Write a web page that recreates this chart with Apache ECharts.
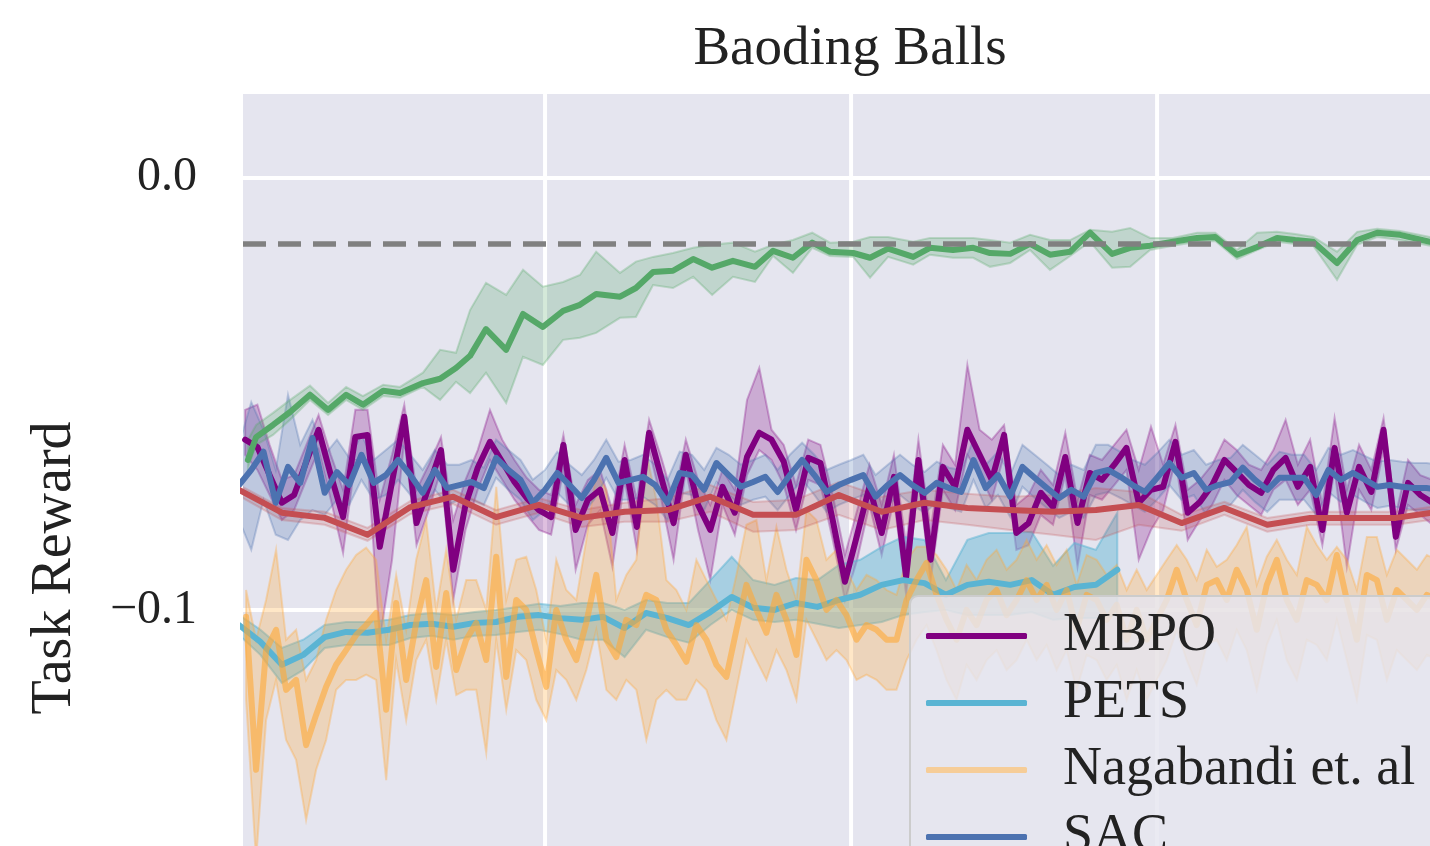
<!DOCTYPE html>
<html>
<head>
<meta charset="utf-8">
<title>Baoding Balls</title>
<script src="https://cdn.jsdelivr.net/npm/echarts@6.0.0/dist/echarts.min.js"></script>
<style>
  html, body { margin: 0; padding: 0; background: #ffffff; }
  #chart { width: 1430px; height: 846px; }
</style>
</head>
<body>
<div id="chart"></div>
<script>
// ---------------- labels ----------------
const TITLE = 'Baoding Balls';
const Y_NAME = 'Task Reward';
const LEGEND_NAMES = ['MBPO', 'PETS', 'Nagabandi et. al', 'SAC'];

// ---------------- axes ----------------
const X_MIN = 1.3, X_MAX = 398.0;
const Y_MIN = -0.2, Y_MAX = 0.0194, Y_STEP = 0.1;
const GRID_X = [100, 200, 300];
const TARGET_REWARD = -0.0153;   // dashed reference level

// ---------------- green method (irregular evaluation steps) ----------------
const GREEN_X = [2.9,5.6,11.1,16.7,23.2,29.1,35.0,40.5,47.1,52.6,60.1,65.7,70.9,75.5,80.7,87.3,92.8,99.3,105.9,111.4,116.7,124.5,129.7,135.3,141.8,148.4,154.6,161.4,168.6,174.5,181.0,187.3,193.1,200.7,206.2,212.1,220.3,225.8,233.3,239.9,245.4,252.0,258.5,265.0,271.6,278.1,285.3,291.2,297.7,305.2,313.1,319.0,326.1,332.7,339.2,345.1,351.0,358.8,365.4,371.9,379.4,389.2,395.8];
const GREEN_MEAN = [-0.0653,-0.0600,-0.0572,-0.0542,-0.0502,-0.0537,-0.0502,-0.0525,-0.0493,-0.0498,-0.0475,-0.0465,-0.0440,-0.0412,-0.0350,-0.0398,-0.0315,-0.0345,-0.0308,-0.0294,-0.0269,-0.0275,-0.0255,-0.0218,-0.0215,-0.0188,-0.0208,-0.0192,-0.0206,-0.0169,-0.0185,-0.0150,-0.0171,-0.0174,-0.0185,-0.0164,-0.0183,-0.0162,-0.0167,-0.0162,-0.0174,-0.0176,-0.0153,-0.0178,-0.0171,-0.0127,-0.0176,-0.0162,-0.0157,-0.0148,-0.0139,-0.0137,-0.0178,-0.0160,-0.0139,-0.0144,-0.0148,-0.0197,-0.0144,-0.0127,-0.0132,-0.0148,-0.0153];
const GREEN_HIGH = [-0.0606,-0.0572,-0.0544,-0.0514,-0.0481,-0.0521,-0.0484,-0.0505,-0.0479,-0.0484,-0.0451,-0.0398,-0.0405,-0.0306,-0.0243,-0.0271,-0.0213,-0.0252,-0.0241,-0.0225,-0.0171,-0.0220,-0.0194,-0.0183,-0.0174,-0.0162,-0.0155,-0.0150,-0.0171,-0.0155,-0.0144,-0.0127,-0.0150,-0.0148,-0.0137,-0.0137,-0.0148,-0.0139,-0.0139,-0.0139,-0.0144,-0.0150,-0.0132,-0.0144,-0.0144,-0.0120,-0.0125,-0.0116,-0.0139,-0.0139,-0.0127,-0.0127,-0.0167,-0.0127,-0.0125,-0.0130,-0.0137,-0.0171,-0.0125,-0.0118,-0.0123,-0.0137,-0.0141];
const GREEN_LOW = [-0.0671,-0.0618,-0.0595,-0.0560,-0.0514,-0.0549,-0.0514,-0.0537,-0.0505,-0.0509,-0.0484,-0.0514,-0.0472,-0.0498,-0.0451,-0.0521,-0.0414,-0.0433,-0.0375,-0.0370,-0.0359,-0.0324,-0.0322,-0.0248,-0.0255,-0.0229,-0.0271,-0.0229,-0.0241,-0.0181,-0.0220,-0.0162,-0.0181,-0.0183,-0.0231,-0.0183,-0.0201,-0.0178,-0.0185,-0.0185,-0.0206,-0.0197,-0.0167,-0.0213,-0.0181,-0.0148,-0.0208,-0.0206,-0.0167,-0.0157,-0.0148,-0.0146,-0.0188,-0.0167,-0.0148,-0.0153,-0.0157,-0.0236,-0.0155,-0.0137,-0.0144,-0.0157,-0.0162];

// ---------------- MBPO (every 4 steps from 2) ----------------
const MBPO_START = 2, MBPO_EVERY = 4;
const MBPO_MEAN = [-0.0606,-0.0623,-0.0688,-0.0752,-0.0734,-0.0657,-0.0583,-0.0688,-0.0785,-0.0600,
  -0.0595,-0.0854,-0.0704,-0.0553,-0.0799,-0.0715,-0.0630,-0.0907,-0.0757,-0.0671,
  -0.0611,-0.0657,-0.0704,-0.0741,-0.0769,-0.0785,-0.0618,-0.0815,-0.0745,-0.0722,
  -0.0822,-0.0653,-0.0808,-0.0590,-0.0694,-0.0799,-0.0641,-0.0757,-0.0815,-0.0715,
  -0.0775,-0.0646,-0.0590,-0.0606,-0.0657,-0.0769,-0.0648,-0.0660,-0.0792,-0.0935,
  -0.0826,-0.0715,-0.0822,-0.0692,-0.0924,-0.0653,-0.0884,-0.0669,-0.0715,-0.0583,
  -0.0641,-0.0699,-0.0595,-0.0822,-0.0799,-0.0729,-0.0762,-0.0646,-0.0799,-0.0683,
  -0.0699,-0.0664,-0.0625,-0.0752,-0.0722,-0.0715,-0.0611,-0.0775,-0.0750,-0.0711,
  -0.0653,-0.0681,-0.0711,-0.0729,-0.0676,-0.0648,-0.0715,-0.0669,-0.0815,-0.0625,
  -0.0775,-0.0669,-0.0727,-0.0583,-0.0831,-0.0706,-0.0734,-0.0752];
const MBPO_HIGH = [-0.0537,-0.0525,-0.0618,-0.0699,-0.0688,-0.0618,-0.0549,-0.0641,-0.0722,-0.0537,
  -0.0537,-0.0745,-0.0641,-0.0525,-0.0722,-0.0664,-0.0600,-0.0792,-0.0699,-0.0630,
  -0.0537,-0.0606,-0.0653,-0.0694,-0.0722,-0.0734,-0.0595,-0.0757,-0.0699,-0.0676,
  -0.0769,-0.0618,-0.0745,-0.0560,-0.0648,-0.0745,-0.0606,-0.0699,-0.0757,-0.0676,
  -0.0722,-0.0514,-0.0440,-0.0583,-0.0618,-0.0711,-0.0606,-0.0618,-0.0734,-0.0873,
  -0.0769,-0.0664,-0.0757,-0.0641,-0.0850,-0.0606,-0.0815,-0.0618,-0.0664,-0.0433,
  -0.0583,-0.0606,-0.0572,-0.0757,-0.0734,-0.0676,-0.0711,-0.0590,-0.0745,-0.0641,
  -0.0653,-0.0618,-0.0583,-0.0676,-0.0576,-0.0664,-0.0572,-0.0722,-0.0699,-0.0664,
  -0.0606,-0.0630,-0.0664,-0.0676,-0.0630,-0.0560,-0.0664,-0.0606,-0.0757,-0.0556,
  -0.0722,-0.0618,-0.0676,-0.0556,-0.0780,-0.0653,-0.0688,-0.0699];
const MBPO_LOW = [-0.0641,-0.0676,-0.0734,-0.0792,-0.0769,-0.0699,-0.0630,-0.0745,-0.0868,-0.0653,
  -0.0653,-0.1069,-0.0884,-0.0606,-0.0850,-0.0769,-0.0676,-0.0977,-0.0815,-0.0722,
  -0.0653,-0.0699,-0.0745,-0.0780,-0.0815,-0.0826,-0.0676,-0.0907,-0.0803,-0.0769,
  -0.0900,-0.0699,-0.0861,-0.0630,-0.0745,-0.0884,-0.0676,-0.0815,-0.0931,-0.0757,
  -0.0826,-0.0688,-0.0630,-0.0653,-0.0711,-0.0815,-0.0699,-0.0711,-0.0838,-0.0977,
  -0.0884,-0.0757,-0.0873,-0.0745,-0.0965,-0.0699,-0.0931,-0.0722,-0.0769,-0.0641,
  -0.0688,-0.0745,-0.0641,-0.0861,-0.0850,-0.0780,-0.0803,-0.0688,-0.0900,-0.0734,
  -0.0745,-0.0711,-0.0676,-0.0884,-0.0815,-0.0769,-0.0653,-0.0838,-0.0792,-0.0757,
  -0.0699,-0.0734,-0.0757,-0.0780,-0.0722,-0.0699,-0.0757,-0.0722,-0.0850,-0.0676,
  -0.0900,-0.0722,-0.0769,-0.0630,-0.0861,-0.0757,-0.0780,-0.0803];

// ---------------- SAC (every 4 steps from 0) ----------------
const SAC_START = 0, SAC_EVERY = 4;
const SAC_MEAN = [-0.0711,-0.0676,-0.0634,-0.0752,-0.0669,-0.0706,-0.0602,-0.0729,-0.0681,-0.0711,
  -0.0641,-0.0706,-0.0688,-0.0653,-0.0688,-0.0729,-0.0676,-0.0718,-0.0711,-0.0704,
  -0.0718,-0.0648,-0.0676,-0.0699,-0.0752,-0.0722,-0.0683,-0.0711,-0.0741,-0.0699,
  -0.0648,-0.0706,-0.0699,-0.0692,-0.0711,-0.0752,-0.0683,-0.0688,-0.0722,-0.0660,
  -0.0688,-0.0715,-0.0704,-0.0692,-0.0727,-0.0688,-0.0653,-0.0688,-0.0727,-0.0711,
  -0.0699,-0.0688,-0.0738,-0.0711,-0.0688,-0.0711,-0.0729,-0.0706,-0.0718,-0.0727,
  -0.0653,-0.0718,-0.0688,-0.0738,-0.0669,-0.0694,-0.0718,-0.0741,-0.0722,-0.0738,
  -0.0683,-0.0676,-0.0692,-0.0711,-0.0727,-0.0694,-0.0660,-0.0694,-0.0683,-0.0722,
  -0.0711,-0.0704,-0.0671,-0.0699,-0.0722,-0.0694,-0.0694,-0.0694,-0.0734,-0.0676,
  -0.0699,-0.0683,-0.0699,-0.0715,-0.0711,-0.0715,-0.0718,-0.0718,-0.0722];
const SAC_HIGH = [-0.0618,-0.0519,-0.0583,-0.0676,-0.0502,-0.0618,-0.0560,-0.0641,-0.0606,-0.0648,
  -0.0595,-0.0653,-0.0630,-0.0606,-0.0641,-0.0676,-0.0630,-0.0664,-0.0664,-0.0653,
  -0.0671,-0.0606,-0.0630,-0.0653,-0.0699,-0.0676,-0.0634,-0.0664,-0.0688,-0.0653,
  -0.0606,-0.0657,-0.0653,-0.0641,-0.0664,-0.0699,-0.0634,-0.0641,-0.0676,-0.0625,
  -0.0641,-0.0664,-0.0653,-0.0641,-0.0676,-0.0641,-0.0613,-0.0641,-0.0676,-0.0664,
  -0.0653,-0.0641,-0.0688,-0.0664,-0.0641,-0.0664,-0.0681,-0.0657,-0.0671,-0.0676,
  -0.0606,-0.0664,-0.0634,-0.0688,-0.0618,-0.0641,-0.0664,-0.0688,-0.0664,-0.0676,
  -0.0618,-0.0618,-0.0634,-0.0653,-0.0664,-0.0637,-0.0606,-0.0641,-0.0630,-0.0664,
  -0.0653,-0.0648,-0.0618,-0.0641,-0.0664,-0.0634,-0.0641,-0.0641,-0.0676,-0.0625,
  -0.0641,-0.0630,-0.0644,-0.0657,-0.0653,-0.0657,-0.0660,-0.0660,-0.0664];
const SAC_LOW = [-0.0792,-0.0861,-0.0745,-0.0826,-0.0838,-0.0792,-0.0769,-0.0780,-0.0745,-0.0757,
  -0.0699,-0.0745,-0.0734,-0.0699,-0.0734,-0.0769,-0.0722,-0.0757,-0.0745,-0.0745,
  -0.0757,-0.0694,-0.0722,-0.0745,-0.0792,-0.0769,-0.0729,-0.0757,-0.0780,-0.0745,
  -0.0694,-0.0745,-0.0745,-0.0738,-0.0757,-0.0792,-0.0729,-0.0734,-0.0769,-0.0704,
  -0.0734,-0.0757,-0.0745,-0.0738,-0.0769,-0.0734,-0.0699,-0.0734,-0.0773,-0.0757,
  -0.0745,-0.0734,-0.0785,-0.0757,-0.0734,-0.0757,-0.0775,-0.0752,-0.0764,-0.0773,
  -0.0699,-0.0764,-0.0734,-0.0785,-0.0715,-0.0741,-0.0764,-0.0787,-0.0773,-0.0787,
  -0.0734,-0.0727,-0.0741,-0.0757,-0.0773,-0.0745,-0.0711,-0.0745,-0.0734,-0.0780,
  -0.0762,-0.0757,-0.0722,-0.0750,-0.0773,-0.0745,-0.0745,-0.0745,-0.0780,-0.0727,
  -0.0750,-0.0734,-0.0750,-0.0764,-0.0759,-0.0764,-0.0769,-0.0769,-0.0773];

// ---------------- red method (every 14 steps) ----------------
const RED_START = 0, RED_EVERY = 14;
const RED_MEAN = [-0.0722,-0.0775,-0.0787,-0.0826,-0.0762,-0.0738,-0.0785,-0.0757,-0.0787,-0.0773,-0.0769,-0.0738,-0.0780,-0.0780,-0.0734,-0.0773,-0.0752,-0.0764,-0.0769,-0.0773,-0.0769,-0.0757,-0.0799,-0.0764,-0.0803,-0.0787,-0.0787,-0.0787,-0.0773];
const RED_HIGH = [-0.0711,-0.0764,-0.0773,-0.0810,-0.0748,-0.0722,-0.0769,-0.0741,-0.0769,-0.0752,-0.0741,-0.0711,-0.0750,-0.0745,-0.0704,-0.0738,-0.0722,-0.0731,-0.0738,-0.0734,-0.0718,-0.0727,-0.0780,-0.0750,-0.0787,-0.0773,-0.0773,-0.0773,-0.0759];
const RED_LOW = [-0.0736,-0.0792,-0.0803,-0.0840,-0.0778,-0.0755,-0.0803,-0.0775,-0.0808,-0.0796,-0.0796,-0.0773,-0.0819,-0.0815,-0.0780,-0.0815,-0.0792,-0.0803,-0.0815,-0.0826,-0.0838,-0.0803,-0.0817,-0.0780,-0.0819,-0.0803,-0.0803,-0.0803,-0.0789];

// ---------------- PETS (every 7 steps) ----------------
const PETS_START = 0, PETS_EVERY = 7;
const PETS_MEAN = [-0.1035,-0.1074,-0.1127,-0.1104,-0.1063,-0.1051,-0.1053,-0.1046,-0.1035,-0.1032,-0.1039,-0.1030,-0.1028,-0.1016,-0.1012,-0.1019,-0.1023,-0.1016,-0.1042,-0.1007,-0.1019,-0.1035,-0.1005,-0.0970,-0.0995,-0.1000,-0.0984,-0.0993,-0.0977,-0.0965,-0.0942,-0.0931,-0.0938,-0.0965,-0.0942,-0.0935,-0.0942,-0.0931,-0.0965,-0.0947,-0.0942,-0.0907];
const PETS_HIGH = [-0.1012,-0.1046,-0.1088,-0.1069,-0.1035,-0.1028,-0.1028,-0.1023,-0.1012,-0.1007,-0.1012,-0.1005,-0.1000,-0.0993,-0.0986,-0.0991,-0.0984,-0.0984,-0.1000,-0.0977,-0.0984,-0.0984,-0.0931,-0.0877,-0.0931,-0.0942,-0.0926,-0.0931,-0.0896,-0.0884,-0.0854,-0.0831,-0.0838,-0.0931,-0.0838,-0.0822,-0.0822,-0.0819,-0.0898,-0.0845,-0.0861,-0.0775];
const PETS_LOW = [-0.1058,-0.1104,-0.1169,-0.1139,-0.1088,-0.1081,-0.1081,-0.1081,-0.1065,-0.1060,-0.1069,-0.1060,-0.1058,-0.1051,-0.1046,-0.1056,-0.1069,-0.1069,-0.1109,-0.1046,-0.1063,-0.1076,-0.1035,-0.1000,-0.1023,-0.1028,-0.1023,-0.1032,-0.1042,-0.1035,-0.1028,-0.1012,-0.1005,-0.1000,-0.1012,-0.1012,-0.1012,-0.1005,-0.1023,-0.1019,-0.1019,-0.1012];

// ---------------- Nagabandi et. al (every 3.27 steps) ----------------
const NAG_START = 2.3, NAG_EVERY = 3.27;
const NAG_MEAN = [-0.1016,-0.1370,-0.1093,-0.1046,-0.1185,-0.1162,-0.1313,-0.1243,-0.1178,-0.1127,
  -0.1093,-0.1058,-0.1035,-0.1007,-0.1231,-0.0984,-0.1162,-0.1030,-0.0931,-0.1132,
  -0.0961,-0.1139,-0.1069,-0.1030,-0.1116,-0.0877,-0.1155,-0.0977,-0.1000,-0.1093,
  -0.1178,-0.1000,-0.1069,-0.1116,-0.1030,-0.0919,-0.1069,-0.1109,-0.1023,-0.1035,
  -0.0965,-0.0977,-0.1046,-0.1081,-0.1120,-0.1035,-0.1069,-0.1127,-0.1155,-0.1046,
  -0.0942,-0.1000,-0.1053,-0.0965,-0.1023,-0.1104,-0.0884,-0.0931,-0.1000,-0.0977,
  -0.1012,-0.1069,-0.1035,-0.1046,-0.1069,-0.1069,-0.0977,-0.0931,-0.0891,-0.0965,
  -0.1023,-0.1069,-0.1000,-0.1035,-0.0977,-0.0954,-0.1012,-0.0977,-0.0931,-0.0977,
  -0.0942,-0.1000,-0.0954,-0.1046,-0.0965,-0.0977,-0.1023,-0.0988,-0.1069,-0.1000,
  -0.1069,-0.1023,-0.0977,-0.0907,-0.0977,-0.1035,-0.0942,-0.0931,-0.0977,-0.0907,
  -0.0954,-0.1046,-0.0942,-0.0884,-0.0977,-0.1023,-0.0931,-0.0942,-0.0977,-0.0873,
  -0.0977,-0.1069,-0.0919,-0.0931,-0.1023,-0.0954,-0.0977,-0.1000,-0.0965,-0.0977];
const NAG_HIGH = [-0.0954,-0.1069,-0.0977,-0.0861,-0.1069,-0.1046,-0.1162,-0.1116,-0.1023,-0.0954,
  -0.0907,-0.0873,-0.0856,-0.0884,-0.1069,-0.0919,-0.1046,-0.0884,-0.0792,-0.1000,
  -0.0861,-0.1023,-0.0931,-0.0931,-0.1000,-0.0715,-0.0977,-0.0884,-0.0877,-0.0954,
  -0.1069,-0.0884,-0.0954,-0.0977,-0.0838,-0.0683,-0.0722,-0.0977,-0.0919,-0.0884,
  -0.0637,-0.0745,-0.0931,-0.0954,-0.1000,-0.0884,-0.0931,-0.0977,-0.1023,-0.0919,
  -0.0803,-0.0792,-0.0931,-0.0808,-0.0907,-0.0977,-0.0769,-0.0792,-0.0884,-0.0861,
  -0.0907,-0.0954,-0.0919,-0.0931,-0.0954,-0.0965,-0.0884,-0.0854,-0.0854,-0.0873,
  -0.0907,-0.0954,-0.0896,-0.0931,-0.0884,-0.0861,-0.0907,-0.0884,-0.0838,-0.0884,
  -0.0850,-0.0896,-0.0861,-0.0942,-0.0873,-0.0884,-0.0919,-0.0896,-0.0954,-0.0907,
  -0.0954,-0.0919,-0.0884,-0.0850,-0.0884,-0.0931,-0.0861,-0.0900,-0.0884,-0.0850,
  -0.0808,-0.0942,-0.0877,-0.0838,-0.0884,-0.0919,-0.0808,-0.0850,-0.0884,-0.0854,
  -0.0884,-0.0954,-0.0831,-0.0831,-0.0919,-0.0861,-0.0884,-0.0907,-0.0873,-0.0884];
const NAG_LOW = [-0.1208,-0.1579,-0.1255,-0.1162,-0.1301,-0.1347,-0.1486,-0.1370,-0.1301,-0.1185,
  -0.1162,-0.1162,-0.1150,-0.1162,-0.1394,-0.1116,-0.1255,-0.1116,-0.1069,-0.1208,
  -0.1069,-0.1197,-0.1185,-0.1185,-0.1331,-0.1069,-0.1231,-0.1093,-0.1116,-0.1208,
  -0.1255,-0.1139,-0.1162,-0.1208,-0.1139,-0.1046,-0.1185,-0.1208,-0.1162,-0.1185,
  -0.1301,-0.1208,-0.1185,-0.1208,-0.1208,-0.1162,-0.1185,-0.1255,-0.1301,-0.1185,
  -0.1069,-0.1116,-0.1162,-0.1093,-0.1139,-0.1208,-0.1023,-0.1069,-0.1116,-0.1093,
  -0.1116,-0.1162,-0.1150,-0.1162,-0.1185,-0.1185,-0.1116,-0.1069,-0.1035,-0.1093,
  -0.1162,-0.1208,-0.1127,-0.1162,-0.1116,-0.1093,-0.1139,-0.1116,-0.1069,-0.1116,
  -0.1081,-0.1139,-0.1093,-0.1185,-0.1104,-0.1116,-0.1162,-0.1127,-0.1208,-0.1139,
  -0.1208,-0.1162,-0.1116,-0.1046,-0.1116,-0.1173,-0.1081,-0.1069,-0.1116,-0.1046,
  -0.1093,-0.1185,-0.1081,-0.1023,-0.1116,-0.1162,-0.1069,-0.1081,-0.1116,-0.1023,
  -0.1116,-0.1208,-0.1058,-0.1069,-0.1162,-0.1093,-0.1116,-0.1139,-0.1104,-0.1116];

// ---------------- helpers ----------------
const FONT = '"Liberation Serif", "DejaVu Serif", serif';
const TEXT_COLOR = '#222222';
const PLOT_BG = '#E5E5EF';
const LINE_W = 6;

function evalSteps(start, every, count) {
  const xs = [];
  for (let i = 0; i < count; i++) xs.push(+(start + every * i).toFixed(2));
  return xs;
}
function rgba(hex, a) {
  const n = parseInt(hex.slice(1), 16);
  return 'rgba(' + ((n >> 16) & 255) + ',' + ((n >> 8) & 255) + ',' + (n & 255) + ',' + a + ')';
}
// shaded spread between LOW and HIGH, drawn as one polygon through the axis scales
function spreadSeries(id, xs, low, high, color, alpha) {
  const mid = Math.floor(xs.length / 2);
  return {
    type: 'custom', id: id, name: id, coordinateSystem: 'cartesian2d',
    clip: true, silent: true, animation: false, z: 2,
    data: [[xs[mid], (low[mid] + high[mid]) / 2]],
    encode: { x: 0, y: 1 },
    renderItem: function (params, api) {
      const pts = [];
      for (let i = 0; i < xs.length; i++) pts.push(api.coord([xs[i], high[i]]));
      for (let i = xs.length - 1; i >= 0; i--) pts.push(api.coord([xs[i], low[i]]));
      return {
        type: 'polygon',
        shape: { points: pts },
        style: { fill: rgba(color, alpha), stroke: rgba(color, alpha + 0.05), lineWidth: 2 }
      };
    }
  };
}
function meanSeries(name, xs, ys, color, opacity) {
  return {
    type: 'line', name: name, data: xs.map(function (x, i) { return [x, ys[i]]; }),
    symbol: 'none', showSymbol: false, clip: true, silent: true, animation: false, z: 2,
    lineStyle: { color: color, width: LINE_W, opacity: opacity, join: 'round', cap: 'round' },
    itemStyle: { color: color },
    emphasis: { disabled: true }
  };
}

const COLORS = {
  mbpo: '#800080', pets: '#5AB4D3', nag: '#FFA836', sac: '#4C72B0', red: '#C44E52', green: '#55A868'
};

const mbpoX = evalSteps(MBPO_START, MBPO_EVERY, MBPO_MEAN.length);
const sacX = evalSteps(SAC_START, SAC_EVERY, SAC_MEAN.length);
const redX = evalSteps(RED_START, RED_EVERY, RED_MEAN.length);
const petsX = evalSteps(PETS_START, PETS_EVERY, PETS_MEAN.length);
const nagX = evalSteps(NAG_START, NAG_EVERY, NAG_MEAN.length);

const series = [];
// vertical grid lines
GRID_X.forEach(function (x) {
  series.push({
    type: 'line', data: [[x, Y_MIN], [x, Y_MAX]], symbol: 'none', silent: true, animation: false, z: 1,
    lineStyle: { color: '#ffffff', width: 4 }
  });
});

series.push(spreadSeries('MBPO spread', mbpoX, MBPO_LOW, MBPO_HIGH, COLORS.mbpo, 0.25));
series.push(meanSeries('MBPO', mbpoX, MBPO_MEAN, COLORS.mbpo, 1));
series.push(spreadSeries('PETS spread', petsX, PETS_LOW, PETS_HIGH, COLORS.pets, 0.45));
series.push(meanSeries('PETS', petsX, PETS_MEAN, COLORS.pets, 1));
series.push(spreadSeries('Nagabandi spread', nagX, NAG_LOW, NAG_HIGH, COLORS.nag, 0.28));
series.push(meanSeries('Nagabandi et. al', nagX, NAG_MEAN, COLORS.nag, 0.6));
series.push(spreadSeries('SAC spread', sacX, SAC_LOW, SAC_HIGH, COLORS.sac, 0.25));
series.push(meanSeries('SAC', sacX, SAC_MEAN, COLORS.sac, 1));
series.push(spreadSeries('Method F spread', redX, RED_LOW, RED_HIGH, COLORS.red, 0.2));
series.push(meanSeries('Method F', redX, RED_MEAN, COLORS.red, 1));
series.push(spreadSeries('Method E spread', GREEN_X, GREEN_LOW, GREEN_HIGH, COLORS.green, 0.25));
series.push(meanSeries('Method E', GREEN_X, GREEN_MEAN, COLORS.green, 1));
// dashed reference level
series.push({
  type: 'line', name: 'reference', data: [[X_MIN, TARGET_REWARD], [X_MAX, TARGET_REWARD]],
  symbol: 'none', silent: true, animation: false, z: 3,
  lineStyle: { color: '#808080', width: 5.5, type: [23, 12], cap: 'butt' }
});

const chart = echarts.init(document.getElementById('chart'), null, { renderer: 'canvas', width: 1430, height: 846 });
chart.setOption({
  animation: false,
  backgroundColor: '#ffffff',
  title: {
    text: TITLE, left: 845, top: 17, textAlign: 'center',
    textStyle: { fontFamily: FONT, fontSize: 55, fontWeight: 'normal', color: TEXT_COLOR }
  },
  grid: {
    left: 243, top: 94, width: 1214, height: 948,
    show: true, backgroundColor: PLOT_BG, borderWidth: 0,
    containLabel: false, outerBoundsMode: 'none'
  },
  xAxis: {
    type: 'value', min: X_MIN, max: X_MAX,
    axisLine: { show: false }, axisTick: { show: false }, axisLabel: { show: false }, splitLine: { show: false }
  },
  yAxis: {
    type: 'value', min: Y_MIN, max: Y_MAX, interval: Y_STEP,
    name: Y_NAME, nameLocation: 'middle', nameGap: 160,
    nameTextStyle: { fontFamily: FONT, fontSize: 56, color: TEXT_COLOR },
    axisLine: { show: false }, axisTick: { show: false },
    axisLabel: {
      fontFamily: FONT, fontSize: 48, color: TEXT_COLOR, margin: 46,
      showMaxLabel: false, showMinLabel: false,
      formatter: function (v) { return v.toFixed(1).replace('-', '\u2212'); }
    },
    splitLine: { show: true, showMaxLine: false, showMinLine: false, lineStyle: { color: '#ffffff', width: 4 } }
  },
  legend: {
    orient: 'vertical', left: 910, top: 596, height: 420,
    padding: [13, 40, 12, 16], itemGap: 13,
    itemWidth: 101, itemHeight: 6, icon: 'roundRect',
    backgroundColor: 'rgba(229,229,239,0.82)', borderColor: '#CCCCCC', borderWidth: 2, borderRadius: 8,
    textStyle: { fontFamily: FONT, fontSize: 54, color: TEXT_COLOR, padding: [0, 0, 0, 31] },
    selectedMode: false,
    data: [
      { name: LEGEND_NAMES[0], itemStyle: { color: COLORS.mbpo, opacity: 1 } },
      { name: LEGEND_NAMES[1], itemStyle: { color: COLORS.pets, opacity: 1 } },
      { name: LEGEND_NAMES[2], itemStyle: { color: '#F6CD98', opacity: 1 } },
      { name: LEGEND_NAMES[3], itemStyle: { color: COLORS.sac, opacity: 1 } }
    ]
  },
  series: series
});
</script>
</body>
</html>
